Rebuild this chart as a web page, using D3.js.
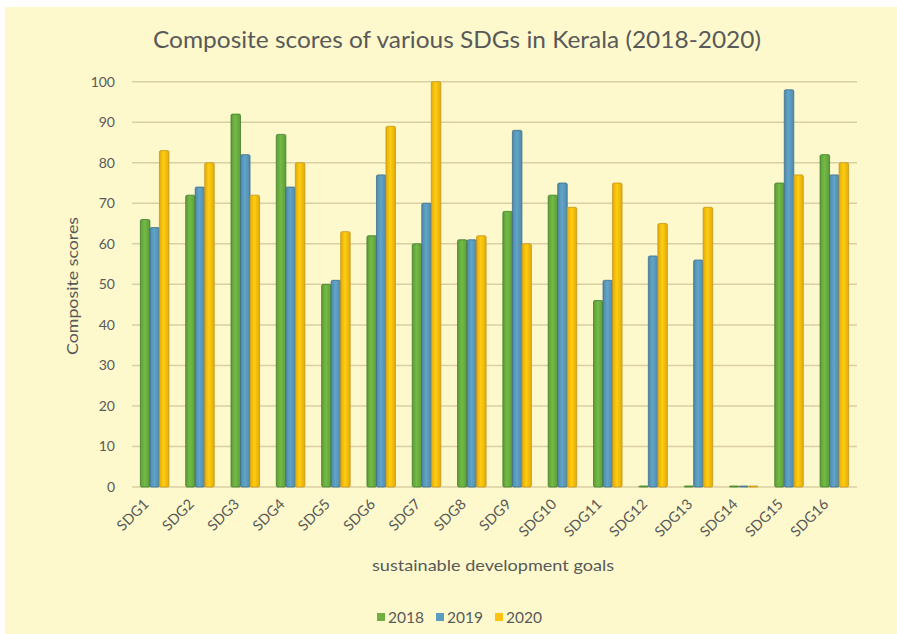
<!DOCTYPE html>
<html>
<head>
<meta charset="utf-8">
<script src="https://cdn.jsdelivr.net/npm/d3@7"></script>
<style>
  body { margin: 0; background: #fff; }
  svg { display: block; }
  text { font-family: Lato, "Open Sans", sans-serif; fill: #595959; }
</style>
</head>
<body>
<svg width="897" height="634"></svg>
<script>
// chart data
var goals = ["SDG1", "SDG2", "SDG3", "SDG4", "SDG5", "SDG6", "SDG7", "SDG8",
             "SDG9", "SDG10", "SDG11", "SDG12", "SDG13", "SDG14", "SDG15", "SDG16"];
var years = ["2018", "2019", "2020"];
var scores2018 = [66, 72, 92, 87, 50, 62, 60, 61, 68, 72, 46, 0, 0, 0, 75, 82];
var scores2019 = [64, 74, 82, 74, 51, 77, 70, 61, 88, 75, 51, 57, 56, 0, 98, 77];
var scores2020 = [83, 80, 72, 80, 63, 89, 100, 62, 60, 69, 75, 65, 69, 0, 77, 80];
var yTicks = [0, 10, 20, 30, 40, 50, 60, 70, 80, 90, 100];

var series = [scores2018, scores2019, scores2020];
var fills = ["#6cb141", "#5b9cbf", "#ffc20e"];
var strokes = ["#3f7d28", "#3e6f8b", "#c8951b"];

var svg = d3.select("svg"),
    width = +svg.attr("width"),
    height = +svg.attr("height");

var margin = { left: 132, right: 857, top: 81.7, bottom: 487 };

svg.append("rect")
    .attr("x", 5).attr("y", 7)
    .attr("width", width - 5).attr("height", height - 7)
    .attr("fill", "#fdf9cc");

// gradients for the cylinder look
var defs = svg.append("defs");
fills.forEach(function(c, i) {
    var g = defs.append("linearGradient").attr("id", "grad" + i)
        .attr("x1", "0%").attr("x2", "100%").attr("y1", "0%").attr("y2", "0%");
    var dark = d3.color(c).darker(0.35), light = d3.color(c).brighter(0.15);
    g.append("stop").attr("offset", "0%").attr("stop-color", dark);
    g.append("stop").attr("offset", "45%").attr("stop-color", light);
    g.append("stop").attr("offset", "100%").attr("stop-color", dark);
});

var x = d3.scaleBand()
    .domain(goals)
    .range([margin.left, margin.right])
    .paddingInner(0.37)
    .paddingOuter(0.185);

var xs = d3.scaleBand()
    .domain(years)
    .range([0, x.bandwidth()]);

var y = d3.scaleLinear()
    .domain([0, 100])
    .range([margin.bottom, margin.top]);

// gridlines
svg.append("g")
    .selectAll("line")
    .data(yTicks)
    .join("line")
    .attr("x1", margin.left).attr("x2", margin.right)
    .attr("y1", d => y(d)).attr("y2", d => y(d))
    .attr("stroke", "#d9cfa3")
    .attr("stroke-width", 1.5);

// y tick labels
svg.append("g")
    .selectAll("text")
    .data(yTicks)
    .join("text")
    .attr("x", 115)
    .attr("y", d => y(d))
    .attr("dy", "0.35em")
    .attr("text-anchor", "end")
    .attr("font-size", 14)
    .text(d => d);

// bars
var groups = svg.append("g")
    .selectAll("g")
    .data(goals)
    .join("g")
    .attr("transform", d => "translate(" + x(d) + ",0)");

groups.selectAll("rect")
    .data((d, i) => years.map((yr, k) => ({ year: yr, k: k, value: series[k][i] })))
    .join("rect")
    .attr("x", d => xs(d.year))
    .attr("width", xs.bandwidth())
    .attr("y", d => Math.min(y(d.value), y(0) - 1))
    .attr("height", d => Math.max(y(0) - y(d.value), 1))
    .attr("rx", 1.5)
    .attr("fill", d => "url(#grad" + d.k + ")")
    .attr("stroke", d => strokes[d.k])
    .attr("stroke-width", 0.8);

// x tick labels
svg.append("g")
    .selectAll("text")
    .data(goals)
    .join("text")
    .attr("text-anchor", "end")
    .attr("font-size", 14.5)
    .attr("transform", d => "translate(" + (x(d) + x.bandwidth() / 2 - 5) + ",505) rotate(-45)")
    .text(d => d);

// title
svg.append("text")
    .attr("x", 457).attr("y", 48)
    .attr("text-anchor", "middle")
    .attr("font-size", 24)
    .attr("textLength", 608)
    .attr("lengthAdjust", "spacingAndGlyphs")
    .text("Composite scores of various SDGs in Kerala (2018-2020)");

// axis titles
svg.append("text")
    .attr("transform", "translate(78,286) rotate(-90)")
    .attr("text-anchor", "middle")
    .attr("font-size", 15)
    .attr("textLength", 138)
    .attr("lengthAdjust", "spacingAndGlyphs")
    .text("Composite scores");

svg.append("text")
    .attr("x", 493).attr("y", 571)
    .attr("text-anchor", "middle")
    .attr("font-size", 15)
    .attr("textLength", 242)
    .attr("lengthAdjust", "spacingAndGlyphs")
    .text("sustainable development goals");

// legend
var legend = svg.append("g")
    .selectAll("g")
    .data(years)
    .join("g")
    .attr("transform", (d, i) => "translate(" + (377 + i * 59) + ",613)");

legend.append("rect")
    .attr("width", 8).attr("height", 8)
    .attr("fill", (d, i) => fills[i]);

legend.append("text")
    .attr("x", 11).attr("y", 9.5)
    .attr("font-size", 15.5)
    .text(d => d);
</script>
</body>
</html>
